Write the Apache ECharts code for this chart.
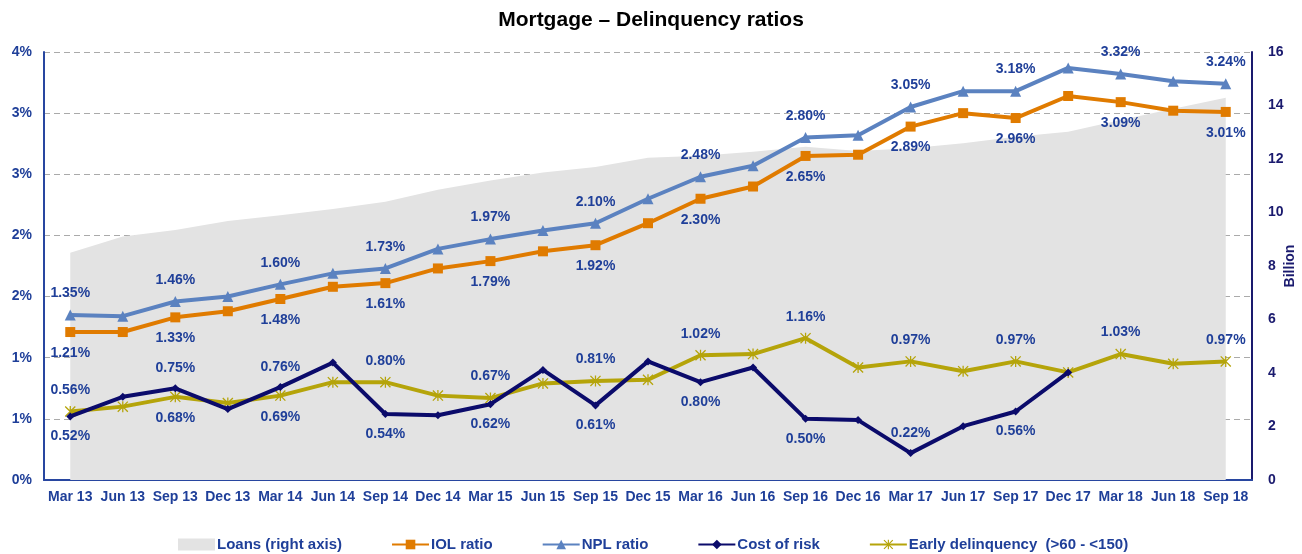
<!DOCTYPE html>
<html>
<head>
<meta charset="utf-8">
<script src="https://cdn.jsdelivr.net/npm/echarts@6/dist/echarts.min.js"></script>
<style>
  html, body { margin: 0; padding: 0; background: #fff; }
  #chart { width: 1302px; height: 554px; }
</style>
</head>
<body>
<div id="chart"></div>
<script>
// 数据
var categories = ["Mar 13", "Jun 13", "Sep 13", "Dec 13", "Mar 14", "Jun 14", "Sep 14", "Dec 14",
  "Mar 15", "Jun 15", "Sep 15", "Dec 15", "Mar 16", "Jun 16", "Sep 16", "Dec 16",
  "Mar 17", "Jun 17", "Sep 17", "Dec 17", "Mar 18", "Jun 18", "Sep 18"];
var loans = [8.5, 9.1, 9.35, 9.68, 9.9, 10.13, 10.4, 10.85, 11.2, 11.5, 11.7, 12.05,
  12.12, 12.27, 12.46, 12.3, 12.4, 12.59, 12.83, 13.02, 13.46, 13.88, 14.29];
var iol = [1.21, 1.21, 1.33, 1.38, 1.48, 1.58, 1.61, 1.73, 1.79, 1.87, 1.92, 2.10,
  2.30, 2.40, 2.65, 2.66, 2.89, 3.00, 2.96, 3.14, 3.09, 3.02, 3.01];
var npl = [1.35, 1.34, 1.46, 1.50, 1.60, 1.69, 1.73, 1.89, 1.97, 2.04, 2.10, 2.30,
  2.48, 2.57, 2.80, 2.82, 3.05, 3.18, 3.18, 3.37, 3.32, 3.26, 3.24];
var costOfRisk = [0.52, 0.68, 0.75, 0.58, 0.76, 0.96, 0.54, 0.53, 0.62, 0.90, 0.61, 0.97,
  0.80, 0.92, 0.50, 0.49, 0.22, 0.44, 0.56, 0.88, null, null, null];
var earlyDelinquency = [0.56, 0.60, 0.68, 0.63, 0.69, 0.80, 0.80, 0.69, 0.67, 0.79, 0.81, 0.82,
  1.02, 1.03, 1.16, 0.92, 0.97, 0.89, 0.97, 0.88, 1.03, 0.95, 0.97];
// 标签位置 (index -> top/bottom)
var nplLabels = { 0: "top", 2: "top", 4: "top", 6: "top", 8: "top", 10: "top", 12: "top", 14: "top", 16: "top", 18: "top", 20: "top", 22: "top" };
var iolLabels = { 0: "bottom", 2: "bottom", 4: "bottom", 6: "bottom", 8: "bottom", 10: "bottom", 12: "bottom", 14: "bottom", 16: "bottom", 18: "bottom", 20: "bottom", 22: "bottom" };
var corLabels = { 0: "bottom", 2: "top", 4: "top", 6: "bottom", 8: "bottom", 10: "bottom", 12: "bottom", 14: "bottom", 16: "top", 18: "bottom" };
var edLabels = { 0: "top", 2: "bottom", 4: "bottom", 6: "top", 8: "top", 10: "top", 12: "top", 14: "top", 16: "top", 18: "top", 20: "top", 22: "top" };

(function() {
  var myChart = echarts.init(document.getElementById("chart"));
  var labelColor = "#1f3f99";
  var font = "Liberation Sans, Arial, sans-serif";

  function withLabels(values, labels) {
    return values.map(function(v, i) {
      var pos = labels[i];
      return {
        value: v,
        label: pos ? { show: true, position: pos } : { show: false }
      };
    });
  }
  var dataLabel = {
    show: false,
    distance: 9,
    color: labelColor,
    fontWeight: "bold",
    fontSize: 14,
    fontFamily: font,
    formatter: function(p) {
      return p.value.toFixed(2) + "%";
    }
  };
  // 星号符号
  var asterisk = "path://M5.3,0L6.7,0L6.7,12L5.3,12Z M0,1L1,0L12,11L11,12Z M11,0L12,1L1,12L0,11Z";

  var option = {
    animation: false,
    textStyle: { fontFamily: font },
    title: {
      text: "Mortgage \u2013 Delinquency ratios",
      left: "center",
      top: 5,
      textStyle: { color: "#000", fontSize: 21, fontWeight: "bold", fontFamily: font }
    },
    legend: {
      left: 173,
      top: 532,
      itemWidth: 37,
      itemHeight: 12,
      itemGap: 49,
      textStyle: { color: labelColor, fontSize: 15, fontWeight: "bold", fontFamily: font, padding: [0, 0, 0, -3] },
      data: [
        { name: "Loans (right axis)", icon: "rect" },
        "IOL ratio",
        "NPL ratio",
        "Cost of risk",
        "Early delinquency  (>60 - <150)"
      ]
    },
    grid: { left: 44, right: 50, top: 52, bottom: 74, outerBoundsMode: "none" },
    xAxis: {
      type: "category",
      data: categories,
      boundaryGap: true,
      axisLine: { lineStyle: { color: "#2846a0", width: 2 } },
      axisTick: { show: false },
      axisLabel: {
        interval: 0,
        color: labelColor,
        fontWeight: "bold",
        fontSize: 14,
        margin: 10,
        fontFamily: font
      }
    },
    yAxis: [
      {
        type: "value",
        min: 0,
        max: 3.5,
        interval: 0.5,
        axisLine: { show: true, lineStyle: { color: "#2846a0", width: 2 } },
        axisTick: { show: false },
        axisLabel: {
          color: labelColor,
          fontWeight: "bold",
          fontSize: 14,
          margin: 12,
          fontFamily: font,
          formatter: function(v) {
            return Math.round(v) + "%";
          }
        },
        splitLine: { lineStyle: { color: "#aaaaaa", type: [6, 4], width: 1 } }
      },
      {
        type: "value",
        min: 0,
        max: 16,
        interval: 2,
        name: "Billion",
        nameLocation: "middle",
        nameGap: 31,
        nameRotate: 90,
        nameMoveOverlap: false,
        nameTextStyle: { color: "#1a1a6e", fontWeight: "bold", fontSize: 14, fontFamily: font },
        axisLine: { show: true, lineStyle: { color: "#1a1a6e", width: 2 } },
        axisTick: { show: false },
        axisLabel: {
          color: "#1a1a6e",
          fontWeight: "bold",
          fontSize: 14,
          margin: 16,
          fontFamily: font
        },
        splitLine: { show: false }
      }
    ],
    series: [
      {
        name: "Loans (right axis)",
        type: "line",
        yAxisIndex: 1,
        data: loans,
        symbol: "none",
        lineStyle: { width: 0 },
        areaStyle: { color: "#e3e3e3", opacity: 1 },
        itemStyle: { color: "#e3e3e3" },
        z: 1
      },
      {
        name: "IOL ratio",
        type: "line",
        data: withLabels(iol, iolLabels),
        symbol: "rect",
        symbolSize: 10,
        color: "#e07b00",
        lineStyle: { width: 4 },
        label: dataLabel,
        z: 3
      },
      {
        name: "NPL ratio",
        type: "line",
        data: withLabels(npl, nplLabels),
        symbol: "triangle",
        symbolSize: 11,
        color: "#5b82c0",
        lineStyle: { width: 4 },
        label: dataLabel,
        z: 3
      },
      {
        name: "Cost of risk",
        type: "line",
        data: withLabels(costOfRisk, corLabels),
        symbol: "diamond",
        symbolSize: 8,
        color: "#0b0b6b",
        lineStyle: { width: 4 },
        label: dataLabel,
        z: 4
      },
      {
        name: "Early delinquency  (>60 - <150)",
        type: "line",
        data: withLabels(earlyDelinquency, edLabels),
        symbol: asterisk,
        symbolSize: 11,
        color: "#b5a40a",
        lineStyle: { width: 4 },
        label: dataLabel,
        z: 3
      }
    ]
  };

  myChart.setOption(option);
  window.addEventListener("resize", function() {
    myChart.resize();
  });
})();
</script>
</body>
</html>
